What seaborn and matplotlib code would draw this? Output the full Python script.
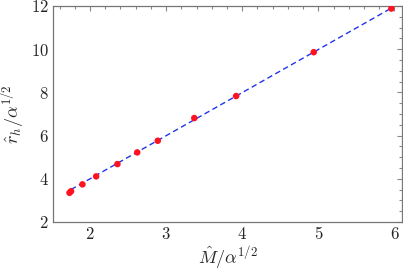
import numpy as np
import pandas as pd
import matplotlib
matplotlib.use("Agg")
import matplotlib.pyplot as plt
import seaborn as sns
from matplotlib.ticker import MultipleLocator, FuncFormatter

# --- Datos ---
masa = [1.73, 1.75, 1.90, 2.08, 2.36, 2.62, 2.89, 3.37, 3.92, 4.94, 5.96]
radio = [3.35, 3.42, 3.74, 4.11, 4.68, 5.22, 5.76, 6.81, 7.83, 9.86, 11.88]

# ajuste lineal (línea discontinua)
ajuste_x = [1.75, 5.96]
ajuste_y = [3.50, 11.90]

df_puntos = pd.DataFrame({"M": masa, "r": radio})
df_ajuste = pd.DataFrame({"M": ajuste_x, "r": ajuste_y})

sns.set_style("white")
plt.rcParams["font.family"] = "serif"
plt.rcParams["mathtext.fontset"] = "cm"

fig, ax = plt.subplots(figsize=(4.03, 2.72), dpi=100)
fig.subplots_adjust(left=0.1315, right=0.9975, top=0.978, bottom=0.184)

sns.lineplot(data=df_ajuste, x="M", y="r", ax=ax, color="#2233ee",
             linestyle=(0, (4, 2.5)), linewidth=1.0)
sns.scatterplot(data=df_puntos, x="M", y="r", ax=ax, color="#ff1122",
                s=22, edgecolor="none", zorder=3)

ax.set_xlim(1.513, 6.1)
ax.set_ylim(2, 12)
ax.xaxis.set_major_locator(MultipleLocator(1))
ax.xaxis.set_minor_locator(MultipleLocator(0.2))
ax.yaxis.set_major_locator(MultipleLocator(2))
ax.yaxis.set_minor_locator(MultipleLocator(0.5))
fmt = FuncFormatter(lambda v, pos: f"${v:g}$")
ax.xaxis.set_major_formatter(fmt)
ax.yaxis.set_major_formatter(fmt)

ax.tick_params(which="both", direction="in", top=True, right=True,
               color="#888888", labelsize=12, width=0.8)
ax.tick_params(which="major", length=3.5, pad=3)
ax.tick_params(which="minor", length=2)
for sp in ax.spines.values():
    sp.set_color("#777777")
    sp.set_linewidth(0.9)

ax.set_xlabel(r"$\hat{M}/\alpha^{1/2}$", fontsize=13, labelpad=1)
ax.set_ylabel(r"$\hat{r}_h/\alpha^{1/2}$", fontsize=13, labelpad=3)

plt.savefig("out.png", dpi=100)
plt.close()
